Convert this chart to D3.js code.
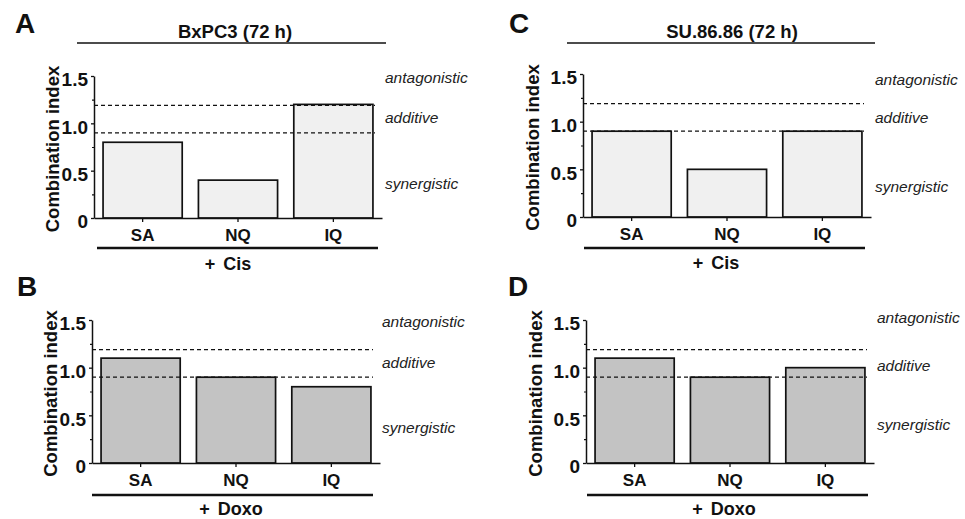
<!DOCTYPE html>
<html>
<head>
<meta charset="utf-8">
<script src="https://cdn.jsdelivr.net/npm/d3@7"></script>
<style>
  body { margin: 0; background: #fff; }
  text { font-family: "Liberation Sans", Arial, sans-serif; fill: #111; }
  .bold { font-weight: bold; }
  .zone { font-style: italic; font-size: 15.5px; fill: #222; }
</style>
</head>
<body>
<div id="chart"></div>
<script>
// data
var categories = ["SA", "NQ", "IQ"];
var bxpc3Cis = [0.8, 0.4, 1.2];
var bxpc3Doxo = [1.1, 0.9, 0.8];
var su8686Cis = [0.9, 0.5, 0.9];
var su8686Doxo = [1.1, 0.9, 1.0];
var thresholds = [1.19, 0.9];   // additive band limits
var yTicks = [0, 0.5, 1.0, 1.5];
var yTickLabels = ["0", "0.5", "1.0", "1.5"];
var yMinorTicks = [0.25, 0.75, 1.25];
var zoneLabels = ["antagonistic", "additive", "synergistic"];

var width = 965, height = 519;

var svg = d3.select("#chart").append("svg")
    .attr("width", width)
    .attr("height", height);

// panel layout (pixel positions only)
var panels = [
    {letter: "A", lx: 15, ly: 33, values: bxpc3Cis, fill: "#f0f0f0", group: "+ Cis",
     axisX: 94, yTop: 76, y0: 218, titleX: 52, groupY: 248, gx1: 97, gx2: 378, groupX: 228, groupTextY: 270,
     head: "BxPC3 (72 h)", headX: 235, headY: 38, headLineY: 43, hx1: 77, hx2: 386,
     zoneX: 385, zoneY: [78, 118, 184]},
    {letter: "C", lx: 509, ly: 33, values: su8686Cis, fill: "#f0f0f0", group: "+ Cis",
     axisX: 583, yTop: 74, y0: 217, titleX: 532, groupY: 248, gx1: 584, gx2: 865, groupX: 716, groupTextY: 269,
     head: "SU.86.86 (72 h)", headX: 732, headY: 38, headLineY: 43, hx1: 567, hx2: 875,
     zoneX: 875, zoneY: [80, 118, 187]},
    {letter: "B", lx: 17, ly: 296, values: bxpc3Doxo, fill: "#c3c3c3", group: "+ Doxo",
     axisX: 92, yTop: 320, y0: 463, titleX: 50, groupY: 495, gx1: 92, gx2: 373, groupX: 231, groupTextY: 515,
     zoneX: 382, zoneY: [322, 363, 428]},
    {letter: "D", lx: 508, ly: 296, values: su8686Doxo, fill: "#c3c3c3", group: "+ Doxo",
     axisX: 586, yTop: 320, y0: 463, titleX: 535, groupY: 495, gx1: 587, gx2: 868, groupX: 724, groupTextY: 515,
     zoneX: 877, zoneY: [318, 366, 425]}
];

panels.forEach(function(p) {
    var g = svg.append("g");

    var x = d3.scaleBand()
        .domain(categories)
        .range([p.axisX, p.axisX + 288])
        .paddingInner(0.17)
        .paddingOuter(0.095);

    var y = d3.scaleLinear()
        .domain([0, 1.5])
        .range([p.y0, p.yTop]);

    // panel letter
    g.append("text")
        .attr("class", "bold")
        .attr("x", p.lx)
        .attr("y", p.ly)
        .attr("font-size", 28)
        .text(p.letter);

    // header with underline
    if (p.head) {
        g.append("text")
            .attr("class", "bold")
            .attr("x", p.headX)
            .attr("y", p.headY)
            .attr("text-anchor", "middle")
            .attr("font-size", 18.5)
            .text(p.head);
        g.append("line")
            .attr("x1", p.hx1).attr("x2", p.hx2)
            .attr("y1", p.headLineY).attr("y2", p.headLineY)
            .style("stroke", "#111")
            .style("stroke-width", 1.4);
    }

    // bars
    g.append("g")
        .selectAll("rect")
        .data(p.values)
        .enter()
        .append("rect")
        .attr("x", function(d, i) { return x(categories[i]); })
        .attr("y", function(d) { return y(d); })
        .attr("width", x.bandwidth())
        .attr("height", function(d) { return y(0) - y(d); })
        .style("fill", p.fill)
        .style("stroke", "#111")
        .style("stroke-width", 1.7);

    // threshold lines drawn over the bars
    g.append("g")
        .selectAll("line")
        .data(thresholds)
        .enter()
        .append("line")
        .attr("x1", p.axisX)
        .attr("x2", p.axisX + 281)
        .attr("y1", function(d) { return y(d); })
        .attr("y2", function(d) { return y(d); })
        .style("stroke", "#111")
        .style("stroke-width", 1.3)
        .style("stroke-dasharray", "4,3");

    // y axis
    var yAxis = g.append("g")
        .attr("transform", "translate(" + p.axisX + ",0)")
        .call(d3.axisLeft(y)
            .tickValues(yTicks)
            .tickSize(3)
            .tickSizeOuter(0)
            .tickPadding(3)
            .tickFormat(function(d, i) { return yTickLabels[i]; }));
    yAxis.select(".domain").style("stroke", "#111").style("stroke-width", 1.5);
    yAxis.selectAll(".tick line").style("stroke", "#111").style("stroke-width", 1.3);
    yAxis.selectAll(".tick text")
        .attr("class", "bold")
        .attr("font-size", 19)
        .attr("font-family", "Liberation Sans, Arial, sans-serif")
        .attr("dy", "0.52em");

    var yMinor = g.append("g")
        .attr("transform", "translate(" + p.axisX + ",0)")
        .call(d3.axisLeft(y)
            .tickValues(yMinorTicks)
            .tickSize(2)
            .tickFormat(""));
    yMinor.select(".domain").remove();
    yMinor.selectAll(".tick line").style("stroke", "#111").style("stroke-width", 1.2);

    // x axis
    var xAxis = g.append("g")
        .attr("transform", "translate(0," + p.y0 + ")")
        .call(d3.axisBottom(x)
            .tickSize(4)
            .tickSizeOuter(0)
            .tickPadding(7));
    xAxis.select(".domain").style("stroke", "#111").style("stroke-width", 1.5);
    xAxis.selectAll(".tick line").style("stroke", "#111").style("stroke-width", 1.3);
    xAxis.selectAll(".tick text")
        .attr("class", "bold")
        .attr("font-size", 17)
        .attr("font-family", "Liberation Sans, Arial, sans-serif");

    // y title
    g.append("text")
        .attr("class", "bold")
        .attr("transform", "translate(" + (p.titleX + 7) + "," + ((p.y0 + p.yTop) / 2 + 2) + ") rotate(-90)")
        .attr("text-anchor", "middle")
        .attr("font-size", 18.5)
        .text("Combination index");

    // treatment group line and label
    g.append("line")
        .attr("x1", p.gx1).attr("x2", p.gx2)
        .attr("y1", p.groupY).attr("y2", p.groupY)
        .style("stroke", "#111")
        .style("stroke-width", 2.4);
    g.append("text")
        .attr("class", "bold")
        .attr("x", p.groupX)
        .attr("y", p.groupTextY)
        .attr("text-anchor", "middle")
        .attr("font-size", 18)
        .attr("word-spacing", 3)
        .text(p.group);

    // zone labels on the right
    g.append("g")
        .selectAll("text")
        .data(zoneLabels)
        .enter()
        .append("text")
        .attr("class", "zone")
        .attr("x", p.zoneX)
        .attr("y", function(d, i) { return p.zoneY[i] + 5; })
        .text(function(d) { return d; });
});
</script>
</body>
</html>
